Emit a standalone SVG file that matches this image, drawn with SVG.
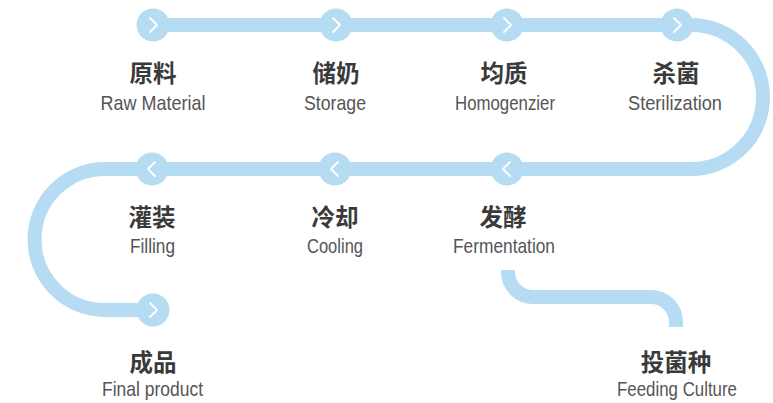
<svg xmlns="http://www.w3.org/2000/svg" width="773" height="403" viewBox="0 0 773 403">
  <style>
    .pipe { fill: none; stroke: #b5dcf3; stroke-width: 14; }
    .dot { fill: #b5dcf3; }
    .chev { fill: none; stroke: #ffffff; stroke-width: 1.8; stroke-linecap: round; stroke-linejoin: round; }
    .zh { font-family: "Noto Sans CJK SC", sans-serif; font-weight: bold; font-size: 23.5px; fill: #3a3a3a; text-anchor: middle; }
    .en { font-family: "Liberation Sans", Arial, sans-serif; font-size: 21px; fill: #555555; text-anchor: middle; }
  </style>
  <defs>
    <g id="next">
      <circle class="dot" r="16.5"/>
      <path class="chev" d="M-3,-7 L4,0 L-3,7"/>
    </g>
    <g id="prev">
      <circle class="dot" r="16.5"/>
      <path class="chev" d="M3,-7 L-4,0 L3,7"/>
    </g>
  </defs>
  <g id="connectors">
    <path class="pipe" d="M153,25 H691 A72,72 0 0 1 691,169 H105 A70.5,70.5 0 0 0 105,310 H153"/>
    <path class="pipe" d="M508,270 V272 A25,25 0 0 0 533,297 H651 A25,25 0 0 1 676,322 V327"/>
  </g>
  <g id="raw-material">
    <use href="#next" x="153" y="25"/>
    <text class="zh" x="153" y="82">原料</text>
    <text class="en" x="153" y="110" textLength="105" lengthAdjust="spacingAndGlyphs">Raw Material</text>
  </g>
  <g id="storage">
    <use href="#next" x="336" y="25"/>
    <text class="zh" x="336" y="82">储奶</text>
    <text class="en" x="335" y="110" textLength="62" lengthAdjust="spacingAndGlyphs">Storage</text>
  </g>
  <g id="homogenizer">
    <use href="#next" x="507" y="25"/>
    <text class="zh" x="504" y="82">均质</text>
    <text class="en" x="505" y="110" textLength="100" lengthAdjust="spacingAndGlyphs">Homogenzier</text>
  </g>
  <g id="sterilization">
    <use href="#next" x="677" y="25"/>
    <text class="zh" x="676" y="82">杀菌</text>
    <text class="en" x="675" y="110" textLength="94" lengthAdjust="spacingAndGlyphs">Sterilization</text>
  </g>
  <g id="fermentation">
    <use href="#prev" x="507" y="169"/>
    <text class="zh" x="503" y="226">发酵</text>
    <text class="en" x="504" y="253" textLength="102" lengthAdjust="spacingAndGlyphs">Fermentation</text>
  </g>
  <g id="cooling">
    <use href="#prev" x="335" y="169"/>
    <text class="zh" x="335" y="226">冷却</text>
    <text class="en" x="335" y="253" textLength="56" lengthAdjust="spacingAndGlyphs">Cooling</text>
  </g>
  <g id="filling">
    <use href="#prev" x="152" y="169"/>
    <text class="zh" x="152" y="226">灌装</text>
    <text class="en" x="152.5" y="253" textLength="45" lengthAdjust="spacingAndGlyphs">Filling</text>
  </g>
  <g id="final-product">
    <use href="#next" x="153" y="310"/>
    <text class="zh" x="153" y="371">成品</text>
    <text class="en" x="152.5" y="396" textLength="101" lengthAdjust="spacingAndGlyphs">Final product</text>
  </g>
  <g id="feeding-culture">
    <text class="zh" x="676" y="371">投菌种</text>
    <text class="en" x="677" y="396" textLength="120" lengthAdjust="spacingAndGlyphs">Feeding Culture</text>
  </g>
</svg>
